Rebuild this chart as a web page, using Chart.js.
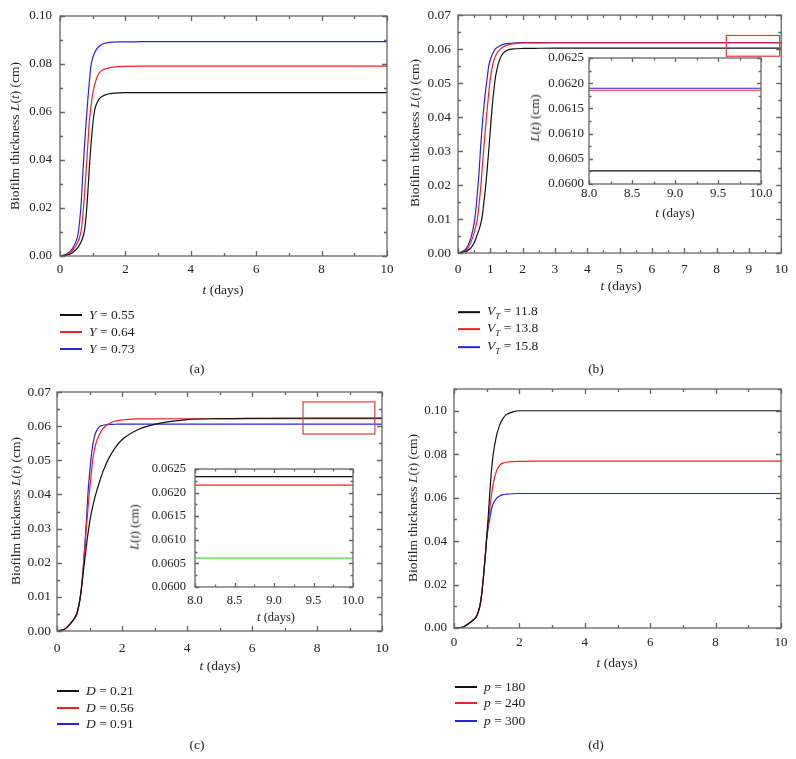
<!DOCTYPE html>
<html>
<head>
<meta charset="utf-8">
<script src="https://cdn.jsdelivr.net/npm/chart.js"></script>
<style>
  body { margin: 0; background: #fff; }
  #page { position: relative; width: 796px; height: 759px; overflow: hidden; }
  canvas { position: absolute; left: 0; top: 0; }
  .t { position: absolute; font-family: 'Liberation Serif', serif; font-size: 13.5px; color: #222;
       white-space: nowrap; transform: translate(-50%, -50%); }
  .rot { transform: translate(-50%, -50%) rotate(-90deg); }
  .lg { position: absolute; font-family: 'Liberation Serif', serif; font-size: 13.5px; color: #222;
        white-space: nowrap; transform: translateY(-50%); display: flex; align-items: center; }
  .sw { display: inline-block; width: 22px; height: 1.4px; margin-right: 7px; }
</style>
</head>
<body>
<div id="page">
  <canvas id="ca" width="796" height="759"></canvas>
  <canvas id="cb" width="796" height="759"></canvas>
  <canvas id="cbi" width="796" height="759"></canvas>
  <canvas id="cc" width="796" height="759"></canvas>
  <canvas id="cci" width="796" height="759"></canvas>
  <canvas id="cd" width="796" height="759"></canvas>

  <!-- axis titles -->
  <div class="t rot" style="left:15px;top:136px">Biofilm thickness <i>L</i>(<i>t</i>) (cm)</div>
  <div class="t" style="left:223px;top:290px"><i>t</i> (days)</div>
  <div class="t rot" style="left:415px;top:133px">Biofilm thickness <i>L</i>(<i>t</i>) (cm)</div>
  <div class="t" style="left:621px;top:286px"><i>t</i> (days)</div>
  <div class="t rot" style="left:535px;top:118px;font-size:13px"><i>L</i>(<i>t</i>) (cm)</div>
  <div class="t" style="left:675px;top:213px;font-size:13px"><i>t</i> (days)</div>
  <div class="t rot" style="left:16px;top:511px">Biofilm thickness <i>L</i>(<i>t</i>) (cm)</div>
  <div class="t" style="left:220px;top:666px"><i>t</i> (days)</div>
  <div class="t rot" style="left:135px;top:527px;font-size:12.5px"><i>L</i>(<i>t</i>) (cm)</div>
  <div class="t" style="left:276px;top:617px;font-size:12.5px"><i>t</i> (days)</div>
  <div class="t rot" style="left:413px;top:508px">Biofilm thickness <i>L</i>(<i>t</i>) (cm)</div>
  <div class="t" style="left:617px;top:663px"><i>t</i> (days)</div>

  <!-- legends -->
  <div class="lg" style="left:60px;top:315px"><span class="sw" style="background:#111"></span><span><i>Y</i> = 0.55</span></div>
  <div class="lg" style="left:60px;top:332px"><span class="sw" style="background:#ee2222"></span><span><i>Y</i> = 0.64</span></div>
  <div class="lg" style="left:60px;top:349px"><span class="sw" style="background:#2525e0"></span><span><i>Y</i> = 0.73</span></div>

  <div class="lg" style="left:458px;top:312px"><span class="sw" style="background:#111"></span><span><i>V<sub style="font-size:9px">T</sub></i> = 11.8</span></div>
  <div class="lg" style="left:458px;top:329px"><span class="sw" style="background:#ee2222"></span><span><i>V<sub style="font-size:9px">T</sub></i> = 13.8</span></div>
  <div class="lg" style="left:458px;top:347px"><span class="sw" style="background:#2525e0"></span><span><i>V<sub style="font-size:9px">T</sub></i> = 15.8</span></div>

  <div class="lg" style="left:57px;top:691px"><span class="sw" style="background:#111"></span><span><i>D</i> = 0.21</span></div>
  <div class="lg" style="left:57px;top:708px"><span class="sw" style="background:#ee2222"></span><span><i>D</i> = 0.56</span></div>
  <div class="lg" style="left:57px;top:724px"><span class="sw" style="background:#2525e0"></span><span><i>D</i> = 0.91</span></div>

  <div class="lg" style="left:455px;top:687px"><span class="sw" style="background:#111"></span><span><i>p</i> = 180</span></div>
  <div class="lg" style="left:455px;top:703px"><span class="sw" style="background:#ee2222"></span><span><i>p</i> = 240</span></div>
  <div class="lg" style="left:455px;top:721px"><span class="sw" style="background:#2525e0"></span><span><i>p</i> = 300</span></div>

  <!-- panel captions -->
  <div class="t" style="left:197px;top:369px">(a)</div>
  <div class="t" style="left:596px;top:369px">(b)</div>
  <div class="t" style="left:197px;top:745px">(c)</div>
  <div class="t" style="left:596px;top:745px">(d)</div>
</div>

<script>
// time grid (days), shared by every curve - denser where the curves rise
const tDays = [0, 0.2, 0.3, 0.4, 0.5, 0.55, 0.6, 0.65, 0.7, 0.75, 0.8, 0.85, 0.9, 0.95, 1.0, 1.05, 1.1, 1.15, 1.2, 1.3, 1.4, 1.5, 1.6, 1.8, 2.0, 2.5, 3, 4, 5, 6, 8, 10];

// (a) yield coefficient Y
const yA055 = [0, 0.0004, 0.0008, 0.0016, 0.0028, 0.0036, 0.0047, 0.006, 0.0078, 0.0108, 0.0168, 0.0262, 0.0375, 0.0468, 0.0545, 0.06, 0.0627, 0.0644, 0.0655, 0.0666, 0.0672, 0.0676, 0.0678, 0.068, 0.0681, 0.0681, 0.0681, 0.0681, 0.0681, 0.0681, 0.0681, 0.0681];
const yA064 = [0, 0.0006, 0.0013, 0.0026, 0.0045, 0.006, 0.0078, 0.0108, 0.0172, 0.0255, 0.0358, 0.046, 0.0565, 0.0625, 0.0677, 0.0708, 0.0732, 0.075, 0.0762, 0.0775, 0.078, 0.0784, 0.0787, 0.0789, 0.079, 0.0791, 0.0791, 0.0791, 0.0791, 0.0791, 0.0791, 0.0791];
const yA073 = [0, 0.0008, 0.0018, 0.0035, 0.0065, 0.009, 0.0145, 0.0225, 0.035, 0.046, 0.056, 0.065, 0.073, 0.0795, 0.0825, 0.0845, 0.0858, 0.0867, 0.0874, 0.0883, 0.0887, 0.089, 0.0891, 0.0892, 0.0892, 0.0893, 0.0893, 0.0893, 0.0893, 0.0893, 0.0893, 0.0893];

// (b) V_T
const vT118 = [0, 0.0003, 0.0007, 0.0015, 0.003, 0.0042, 0.0055, 0.0068, 0.0085, 0.0108, 0.0148, 0.019, 0.0243, 0.03, 0.0362, 0.0422, 0.047, 0.0512, 0.0538, 0.0572, 0.0588, 0.0595, 0.0599, 0.0601, 0.06018, 0.06024, 0.06026, 0.06026, 0.06026, 0.06026, 0.06026, 0.06026];
const vT138 = [0, 0.0005, 0.0013, 0.0032, 0.006, 0.0078, 0.01, 0.0142, 0.019, 0.025, 0.031, 0.0368, 0.042, 0.047, 0.0513, 0.0542, 0.0563, 0.0577, 0.0587, 0.0599, 0.0606, 0.0611, 0.0614, 0.0617, 0.06182, 0.06185, 0.06186, 0.06186, 0.06186, 0.06186, 0.06186, 0.06186];
const vT158 = [0, 0.0008, 0.002, 0.0045, 0.0088, 0.0125, 0.0178, 0.0235, 0.0313, 0.0376, 0.043, 0.0475, 0.0513, 0.055, 0.0568, 0.0582, 0.0592, 0.06, 0.0604, 0.061, 0.0614, 0.0616, 0.0617, 0.06185, 0.06188, 0.0619, 0.0619, 0.0619, 0.0619, 0.0619, 0.0619, 0.0619];

// (c) D
const dC021 = [0, 0.0004, 0.001, 0.002, 0.0032, 0.004, 0.005, 0.0066, 0.0088, 0.0122, 0.0165, 0.0205, 0.0245, 0.0283, 0.0315, 0.0342, 0.0365, 0.0385, 0.0403, 0.0435, 0.0463, 0.0487, 0.0507, 0.0538, 0.056, 0.059, 0.0605, 0.0619, 0.0622, 0.0623, 0.06234, 0.06234];
const dC056 = [0, 0.0004, 0.001, 0.002, 0.0032, 0.0038, 0.0046, 0.0063, 0.009, 0.0125, 0.0175, 0.0235, 0.0298, 0.0356, 0.041, 0.0458, 0.0502, 0.053, 0.055, 0.0574, 0.0591, 0.0601, 0.0607, 0.0615, 0.0618, 0.0621, 0.06215, 0.06216, 0.06216, 0.06216, 0.06216, 0.06216];
const dC091 = [0, 0.0004, 0.001, 0.002, 0.0032, 0.0038, 0.0046, 0.0063, 0.009, 0.0125, 0.0178, 0.0242, 0.0315, 0.04, 0.0458, 0.0508, 0.0545, 0.0568, 0.0583, 0.0598, 0.0602, 0.0604, 0.0605, 0.06055, 0.0606, 0.06061, 0.06061, 0.06061, 0.06061, 0.06061, 0.06061, 0.06061];

// (d) p
const pD180 = [0, 0.0002, 0.0006, 0.0015, 0.0026, 0.0032, 0.0038, 0.0045, 0.0058, 0.0078, 0.0108, 0.016, 0.0235, 0.032, 0.0418, 0.052, 0.0635, 0.0732, 0.08, 0.0885, 0.0935, 0.0965, 0.0982, 0.0995, 0.1, 0.1, 0.1, 0.1, 0.1, 0.1, 0.1, 0.1];
const pD240 = [0, 0.0002, 0.0006, 0.0015, 0.0026, 0.0032, 0.0038, 0.0045, 0.0058, 0.0078, 0.0108, 0.016, 0.0235, 0.032, 0.0414, 0.0485, 0.0555, 0.0618, 0.0665, 0.0722, 0.075, 0.0759, 0.0763, 0.0766, 0.0767, 0.0768, 0.0768, 0.0768, 0.0768, 0.0768, 0.0768, 0.0768];
const pD300 = [0, 0.0002, 0.0006, 0.0015, 0.0026, 0.0032, 0.0038, 0.0045, 0.0058, 0.0078, 0.0108, 0.016, 0.0235, 0.032, 0.041, 0.0465, 0.0508, 0.055, 0.0572, 0.0597, 0.0608, 0.0614, 0.0616, 0.0618, 0.0619, 0.0619, 0.0619, 0.0619, 0.0619, 0.0619, 0.0619, 0.0619];

const BLACK = '#111', RED = '#ee2222', BLUE = '#2525e0', GREEN = '#44dd44';

Chart.defaults.font.family = "'Liberation Serif', serif";
Chart.defaults.color = '#222';

function pts(ys) {
  return tDays.map((t, i) => ({ x: t, y: ys[i] }));
}

function line(ys, color) {
  return { data: pts(ys), borderColor: color, borderWidth: 1.2, pointRadius: 0,
           fill: false, cubicInterpolationMode: 'monotone' };
}

// frame + inward ticks on all four sides, and the optional zoom box
const frame = {
  id: 'frame',
  afterDatasetsDraw(chart, args, o) {
    const { ctx, chartArea: a, scales: { x, y } } = chart;
    ctx.save();
    ctx.strokeStyle = '#666';
    ctx.lineWidth = 1.3;
    const big = o.big || 5, small = o.small || 3;
    const n = Math.round((x.max - x.min) / o.xMinor);
    for (let i = 0; i <= n; i++) {
      const v = x.min + i * o.xMinor;
      const r = v / o.xMajor;
      const len = Math.abs(r - Math.round(r)) < 1e-6 ? big : small;
      const px = Math.round(x.getPixelForValue(v)) + 0.5;
      ctx.beginPath();
      ctx.moveTo(px, a.bottom); ctx.lineTo(px, a.bottom - len);
      ctx.moveTo(px, a.top); ctx.lineTo(px, a.top + len);
      ctx.stroke();
    }
    const m = Math.round((y.max - y.min) / o.yMinor);
    for (let i = 0; i <= m; i++) {
      const v = y.min + i * o.yMinor;
      const r = v / o.yMajor;
      const len = Math.abs(r - Math.round(r)) < 1e-6 ? big : small;
      const py = Math.round(y.getPixelForValue(v)) + 0.5;
      ctx.beginPath();
      ctx.moveTo(a.left, py); ctx.lineTo(a.left + len, py);
      ctx.moveTo(a.right, py); ctx.lineTo(a.right - len, py);
      ctx.stroke();
    }
    ctx.strokeRect(a.left, a.top, a.right - a.left, a.bottom - a.top);
    if (o.box) {
      const b = o.box;
      ctx.strokeStyle = '#e83a3a';
      ctx.lineWidth = 1.2;
      const x0 = x.getPixelForValue(b.x0), x1 = x.getPixelForValue(b.x1);
      const y0 = y.getPixelForValue(b.y0), y1 = y.getPixelForValue(b.y1);
      ctx.strokeRect(x0, y1, x1 - x0, y0 - y1);
    }
    ctx.restore();
  }
};

// area = [left, top, right, bottom] of the plot in page pixels
function panel(id, area, xs, ys, datasets, fr) {
  const yW = 70, xH = 30;
  return new Chart(document.getElementById(id), {
    type: 'line',
    data: { datasets: datasets },
    options: {
      responsive: false,
      animation: false,
      events: [],
      layout: {
        autoPadding: false,
        padding: { left: area[0] - yW, top: area[1], right: 796 - area[2], bottom: 759 - area[3] - xH }
      },
      plugins: { legend: { display: false }, tooltip: { enabled: false }, frame: fr },
      scales: {
        x: {
          type: 'linear', min: xs.min, max: xs.max,
          grid: { display: false, drawTicks: false }, border: { display: false },
          ticks: { stepSize: xs.step, autoSkip: false, maxRotation: 0, padding: xs.pad,
                   font: { size: xs.size }, callback: v => v.toFixed(xs.dec) },
          afterBuildTicks: s => { s.ticks = s.ticks.filter(t => Math.abs(t.value / xs.step - Math.round(t.value / xs.step)) < 1e-6); },
          afterFit: s => { s.height = xH; }
        },
        y: {
          type: 'linear', min: ys.min, max: ys.max,
          grid: { display: false, drawTicks: false }, border: { display: false },
          ticks: { stepSize: ys.step, autoSkip: false, padding: ys.pad,
                   font: { size: ys.size }, callback: v => v.toFixed(ys.dec) },
          afterBuildTicks: s => { s.ticks = s.ticks.filter(t => Math.abs(t.value / ys.step - Math.round(t.value / ys.step)) < 1e-6); },
          afterFit: s => { s.width = yW; }
        }
      }
    },
    plugins: [frame]
  });
}

// (a)
panel('ca', [60, 16, 387, 256],
  { min: 0, max: 10, step: 2, dec: 0, pad: 6, size: 13 },
  { min: 0, max: 0.10, step: 0.02, dec: 2, pad: 8, size: 13 },
  [line(yA055, BLACK), line(yA064, RED), line(yA073, BLUE)],
  { xMajor: 2, xMinor: 1, yMajor: 0.02, yMinor: 0.01 });

// (b)
panel('cb', [458, 14, 782, 253],
  { min: 0, max: 10, step: 1, dec: 0, pad: 8, size: 13.5 },
  { min: 0, max: 0.07, step: 0.01, dec: 2, pad: 7, size: 13.5 },
  [line(vT118, BLACK), line(vT138, RED), line(vT158, BLUE)],
  { xMajor: 1, xMinor: 0.5, yMajor: 0.01, yMinor: 0.005,
    box: { x0: 8.3, x1: 9.95, y0: 0.0579, y1: 0.0640 } });

// (b) inset
panel('cbi', [589, 58, 761, 184],
  { min: 8, max: 10, step: 0.5, dec: 1, pad: 2, size: 13 },
  { min: 0.06, max: 0.0625, step: 0.0005, dec: 4, pad: 5, size: 13 },
  [line(vT118, BLACK), line(vT138, RED), line(vT158, BLUE)],
  { xMajor: 0.5, xMinor: 0.25, yMajor: 0.0005, yMinor: 0.00025, big: 4, small: 2.5 });

// (c)
panel('cc', [57, 392, 382, 631],
  { min: 0, max: 10, step: 2, dec: 0, pad: 9, size: 13.5 },
  { min: 0, max: 0.07, step: 0.01, dec: 2, pad: 6, size: 13.5 },
  [line(dC021, BLACK), line(dC056, RED), line(dC091, BLUE)],
  { xMajor: 2, xMinor: 1, yMajor: 0.01, yMinor: 0.005,
    box: { x0: 7.57, x1: 9.78, y0: 0.0577, y1: 0.0671 } });

// (c) inset
panel('cci', [195, 469, 353, 587],
  { min: 8, max: 10, step: 0.5, dec: 1, pad: 6, size: 12.5 },
  { min: 0.06, max: 0.0625, step: 0.0005, dec: 4, pad: 9, size: 12.5 },
  [line(dC021, BLACK), line(dC056, RED), line(dC091, GREEN)],
  { xMajor: 0.5, xMinor: 0.25, yMajor: 0.0005, yMinor: 0.00025, big: 4, small: 2.5 });

// (d)
panel('cd', [454, 389, 781, 628],
  { min: 0, max: 10, step: 2, dec: 0, pad: 7, size: 13 },
  { min: 0, max: 0.11, step: 0.02, dec: 2, pad: 7, size: 13 },
  [line(pD180, BLACK), line(pD240, RED), line(pD300, BLUE)],
  { xMajor: 2, xMinor: 1, yMajor: 0.02, yMinor: 0.01 });
</script>
</body>
</html>
